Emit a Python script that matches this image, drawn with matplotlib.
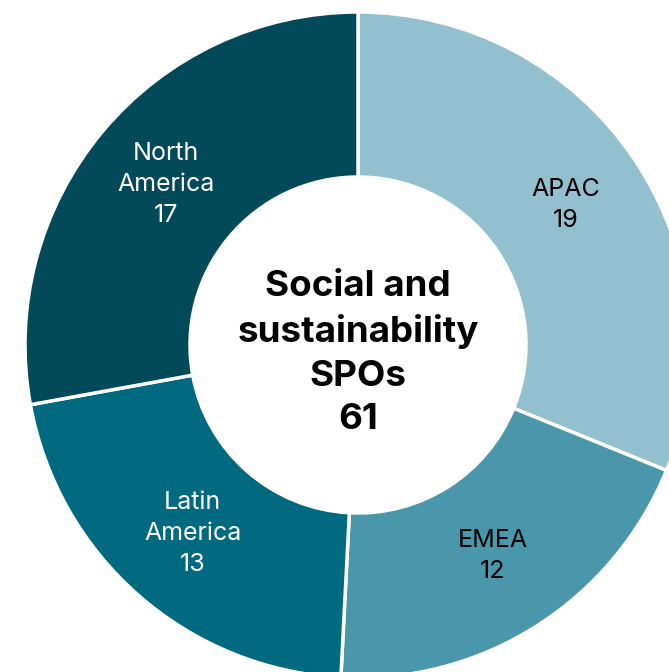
import numpy as np
import matplotlib.pyplot as plt

plt.rcParams['font.family'] = ['Inter', 'DejaVu Sans']

# data
regions = ["APAC", "EMEA", "Latin\nAmerica", "North\nAmerica"]
counts = [19, 12, 13, 17]
colors = ["#93c0cf", "#4a97ab", "#016a80", "#02495a"]
text_colors = ["black", "black", "white", "white"]
center_title = "Social and\nsustainability\nSPOs"
total = sum(counts)

fig = plt.figure(figsize=(6.69, 6.72), dpi=100)
ax = fig.add_axes([0, 0, 1, 1])

# ring geometry in pixel-like units so the donut is cropped like the original
r_out, r_in = 333, 168

wedges, _ = ax.pie(counts, radius=r_out, startangle=90, counterclock=False,
                   colors=colors,
                   wedgeprops=dict(width=r_out - r_in, edgecolor="white", linewidth=2.5))
ax.set_xlim(-358, 669 - 358)
ax.set_ylim(-(672 - 345), 345)
ax.set_aspect("auto")
ax.axis("off")

r_lab = (r_out + r_in) / 2
for w, name, n, tc in zip(wedges, regions, counts, text_colors):
    ang = np.deg2rad((w.theta1 + w.theta2) / 2)
    ax.text(r_lab * np.cos(ang), r_lab * np.sin(ang), f"{name}\n{n}",
            ha="center", va="center", color=tc, fontsize=18, linespacing=1.45)

ax.text(0, -8, f"{center_title}\n{total}", ha="center", va="center",
        fontsize=26.5, fontweight="bold", linespacing=1.4)

fig.savefig("out.png", dpi=100)
